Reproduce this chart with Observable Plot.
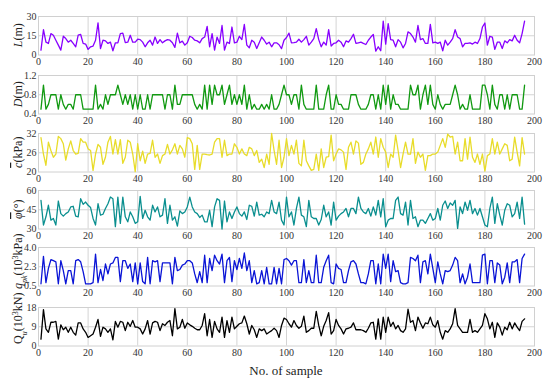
<!DOCTYPE html>
<html><head><meta charset="utf-8">
<script src="https://cdn.jsdelivr.net/npm/d3@7"></script>
<script src="https://cdn.jsdelivr.net/npm/@observablehq/plot@0.6"></script>
<style>
body{margin:0;background:#fff;}
#chart{position:relative;width:550px;height:382px;font-family:"Liberation Serif",serif;}
#chart svg{position:absolute;left:0;overflow:visible;font-family:"Liberation Serif",serif !important;}
#chart svg text{font-family:"Liberation Serif",serif;}
#xtitle{position:absolute;left:0;width:572px;text-align:center;top:363px;font-size:13px;color:#222;font-family:"Liberation Serif",serif;}
</style></head><body><div id="chart"><div id="xtitle">No. of sample</div></div>
<script>
const sampleNo = d3.range(1, 197);
const xTicks = [0, 20, 40, 60, 80, 100, 120, 140, 160, 180, 200];

const L = [3.8,19.7,10,9,16.7,15.4,11.5,7.7,3.8,14.6,
12.8,10,11.5,9,6.4,15.4,16,9,8.5,4.4,
6.4,7,11.5,25,5,11.5,11,9,10,3.3,
9.5,9.5,16.7,17,9.7,10,15.4,10,10,12.3,
12,10,6.4,9.5,11.5,7.7,14,9,12,9.5,
11,12,11.5,9.5,5.9,17,9.5,10.8,7.7,9.5,
14.6,13.6,11.5,11,9.5,12.8,14,22.3,6.4,16.7,
3.8,14,9,23,3.8,10,9,21.8,9.5,10,
14.6,12,23.8,7.7,5.6,11.5,10,5.1,9.5,14,
11.5,8.5,10,6.4,9.5,9.5,8,5,11.5,13.6,
17,9.5,9.7,10,12.3,10,12,14.6,7.7,10,
12.8,20.5,12,6.4,10,7.7,19.7,7,9,9.5,
11.5,10,6.4,11,10,12.8,16.2,9,9.5,10,
9,8.2,11.5,14,16,3,6.4,3.3,26.4,8.5,
24.4,12,11.5,6.4,12,10,5.6,9,18,16.7,
14,10,23,12,12.8,9,9,23.8,9.5,10,
9,10,3.3,11.5,7.7,10,12.8,19.7,14,12.8,
6.4,9,9,9.5,8.5,10,9,12.8,21.8,24.9,
7.7,14.6,14,4.4,10,10,5.1,11,9.5,12,
11,15.4,11.5,9.5,16.7,26.4];

const D = [0.5,1.0,0.5,0.6,0.8,0.8,0.8,0.5,0.8,0.6,
0.5,0.6,0.6,0.5,0.8,0.8,0.8,0.5,0.5,0.5,
0.5,0.5,1.0,0.5,0.6,0.5,0.8,0.6,0.8,0.8,
0.8,1.0,0.8,0.6,0.8,0.6,0.8,0.5,0.8,0.5,
0.8,0.5,0.5,0.8,0.5,0.8,0.8,0.8,0.8,0.8,
0.5,0.8,0.8,0.5,1.0,0.6,0.6,0.8,0.8,0.8,
0.8,0.8,0.6,0.5,0.6,0.5,1.0,0.5,1.0,0.6,
1.0,0.8,0.8,1.0,0.6,0.8,1.0,0.6,0.8,0.6,
0.8,0.6,1.0,0.5,0.8,0.5,0.6,0.5,0.5,0.6,
0.5,0.6,0.5,0.8,0.5,0.5,0.6,0.8,1.0,0.8,
0.8,0.6,0.8,0.8,0.5,1.0,0.6,0.5,0.5,0.5,
0.5,1.0,0.5,0.5,0.5,0.8,1.0,0.5,0.5,0.8,
0.6,0.6,0.5,0.5,0.5,0.8,0.8,0.8,0.6,0.5,
0.5,0.5,0.6,0.8,0.8,0.5,0.8,0.5,1.0,0.6,
1.0,0.5,0.8,0.6,0.6,0.5,0.5,0.5,0.5,1.0,
0.8,0.8,1.0,0.5,0.8,1.0,0.6,1.0,0.6,0.5,
0.8,0.6,0.5,0.6,0.6,0.6,0.8,1.0,0.8,0.5,
0.6,0.5,0.5,0.8,0.5,0.5,0.5,0.5,1.0,1.0,
0.8,0.5,1.0,0.6,0.5,0.8,0.8,0.5,0.8,0.5,
0.8,0.8,0.8,0.5,0.5,1.0];

const C = [30.7,25.6,22.1,29.3,26.7,24.6,25.6,31.1,30.4,28.8,
23.7,27.2,29.7,26.7,25.6,25.8,30.4,29.3,29.3,27.2,
26.7,20.5,25.6,28.6,27.7,22.4,24.6,29.3,31.1,25.6,
30.1,25.6,30.1,22.7,24.6,29.9,29.3,25.6,20.1,28.8,
23.5,26.5,22.7,25.6,25.8,29.9,24.6,25.6,22.7,25.1,
25.6,28.6,25.6,26.9,28.8,25.6,28.3,27.2,24.6,30.7,
30.4,28.8,20.8,28.3,20.8,25.6,25.6,25.4,25.3,25.6,
29.3,30.4,30.4,24.6,29.9,25.1,25.6,25.6,28.8,27.7,
25.6,27.2,25.6,25.1,27.7,27.2,25.1,26.7,23.0,24.0,
21.4,25.6,22.4,32,26.7,22.4,29.9,21.4,24.6,30.4,
25.1,28.3,25.6,29.9,22.7,21.9,29.9,23.5,21.9,20.5,
20.8,25.6,20.5,27.2,21.4,24.6,24.8,31.5,23.5,25.6,
27.2,26.9,26.2,20.8,27.7,29.3,25.6,29.7,29.0,22.4,
23.0,25.6,27.2,29.3,25.6,30.9,24.6,30.4,27.7,26.2,
21.4,25.6,24.6,31.5,26.7,21.4,25.6,29.3,25.6,25.6,
30.4,22.7,26.2,24.6,25.6,20.5,25.1,25.1,25.6,25.6,
26.2,28.3,30.4,27.7,31.8,30.9,31.1,25.6,29.3,23.5,
23.5,30.4,24.0,30.9,24.6,23.0,25.6,22.4,25.6,20.3,
25.1,25.6,30.4,25.6,29.3,25.6,27.2,28.8,28.3,23.5,
24.0,30.9,26.2,21.9,30.7,25.6];

const PHI = [52.3,33.1,39.5,48.5,36.9,38.2,33.1,51.8,42,40,
42,43.3,47.2,47.7,40,39.5,53.6,49.2,51,48.5,
46.7,38.2,33.1,49.7,40.8,41.5,46,49.7,54.9,53.6,
31.8,54.9,34.4,54.9,39.5,35.6,43.3,39.5,34.4,35.6,
55.4,38.2,44.6,39.5,36.9,48.5,43.3,47.2,39.5,40.8,
53.6,34.4,48.5,36.9,39.5,32.3,44.1,42,43.3,47.2,
54.9,47.2,43.3,42,39,40.8,35.6,35.6,44.6,31.8,
47.2,53.6,52.3,30,51.8,35.6,43.3,38.2,43.3,47.2,
42,40,43.3,37.4,48.5,47.7,40,51,40.8,41.5,
39.5,43.3,42,52.3,43.3,42,51,36.9,33.1,54.9,
39.5,43.3,33.1,46,54.9,40.8,39.5,31.8,52.3,39.5,
38.2,38.2,33.1,37.4,48.5,39.5,43.3,33.1,51,36.9,
40,42,43.3,46,39.5,46,46,42,54.9,46,
43.3,42,46,40,47.2,40.8,52.3,39.5,53.6,31.8,
36.9,38.2,38.2,52.3,54.9,42,40.8,51,33.1,52.3,
38.2,39.5,31.8,36.9,36.9,34.4,38.2,42,36.9,38.2,
46,36.9,48.5,51.8,46,50.3,48.5,52.3,30.5,47.2,
42,51,44.6,52.3,42,46,40.8,46,39.5,33.1,
31.8,46,54.9,34.4,49.7,40.8,33.1,44.6,49.7,48.5,
39.5,42,51,38.2,54.9,33.8];

const QPK = [0.7,3.2,0.8,2.1,2.9,2.8,2.7,0.7,2.8,1.9,
0.7,1.9,1.9,0.7,2.8,2.9,2.7,1.8,0.7,0.7,
0.7,0.8,3.4,0.8,2.0,1.0,2.5,1.6,2.5,2.6,
3.1,3.1,0.9,2.8,2.8,2.1,2.5,0.9,2.6,0.7,
2.6,0.9,0.7,3.1,0.7,2.8,2.7,2.8,0.9,2.6,
2.6,2.6,2.6,0.7,3.1,1.9,2.0,2.4,2.5,2.8,
2.8,2.6,1.6,0.8,1.8,0.8,3.3,0.8,3.0,1.9,
3.3,2.8,2.5,3.4,0.8,2.8,3.1,0.9,2.8,2.0,
3.0,2.1,3.5,1.9,2.8,0.8,1.9,0.7,0.8,1.9,
0.7,2.2,0.7,0.7,2.2,0.7,2.1,0.7,2.9,3.0,
2.8,2.4,2.8,2.8,0.8,0.8,2.9,0.8,1.9,0.8,
0.8,3.3,0.8,0.8,2.2,2.8,3.3,0.8,0.7,2.5,
2.1,2.0,0.8,0.8,1.9,2.7,2.8,2.5,1.6,0.8,
0.8,0.7,1.6,2.8,2.8,0.7,2.5,0.7,3.4,2.1,
3.4,0.9,2.8,1.8,1.9,0.8,0.7,0.7,0.8,3.1,
3.0,2.8,3.3,0.8,2.7,2.8,1.6,3.4,2.1,0.8,
2.7,1.6,0.7,1.9,1.8,1.9,2.4,3.1,2.8,0.8,
1.6,0.7,1.3,2.5,0.8,0.8,0.8,0.8,3.3,3.4,
0.7,2.8,2.8,0.8,2.6,2.4,0.7,1.3,2.6,0.8,
2.7,2.7,2.9,0.8,3.0,3.4];

const QU = [3.2,17,8,6.4,11.1,11.1,11.5,3.2,9.9,7.6,
8.8,6.4,8.8,6.4,5.1,10.8,10.8,8,6.4,4,
4.8,5.6,8.8,12.4,4.5,8.8,8,6.4,8,2.9,
11.5,8.8,11.5,11.1,7.2,11.1,9.2,11.9,8.8,8.8,
8,5.6,8,11.9,5.6,10.8,11.5,11.1,7.2,10.4,
9.6,11.1,11.9,4.8,17.5,8,8.8,12.4,8.3,10.8,
9.9,9.2,8.3,7.6,7.6,9.6,15.1,4.8,12.4,4,
11.5,8,6.4,13.5,4,11.9,6.4,13.5,8,9.2,
10.4,10.8,14,10.4,5.6,9.6,7.6,4,8,7.2,
8,5.6,6.4,7.2,8.3,7.2,4,9.6,13,12.4,
10.4,8.8,11.9,9.6,8.3,9.2,14,6.4,7.2,8.3,
8.3,16.2,9.6,4.8,9.2,11.9,15.6,5.6,7.2,12.4,
9.6,8,5.6,8,8.3,8.8,10.8,7.6,7.6,7.6,
7.2,6.4,8.3,10.8,11.1,3.2,12.7,3.2,13.5,6.4,
13.5,9.2,11.1,8,9.6,7.2,6.4,8,17.2,11.1,
11.9,7.2,13.5,10.8,8.3,10.8,10.4,13.5,9.9,8.8,
11.9,6.4,3.2,7.2,6.4,8,10.4,17.5,9.6,8,
6.4,6.4,6.4,12.4,6.4,7.2,6.4,8,9.6,15.1,
12.7,8,11.1,4,10.8,8.8,5.1,8.8,7.6,11.1,
8,10.8,8.8,7.2,11.5,12.7];

const yTickValues = [[0,15,30],[0.4,0.8,1.2],[20,26,32],[30,45,60],[0.5,2.25,4.0],[0,9,18]];
const yTickLabels = [["0","15","30"],["0.4","0.8","1.2"],["20","26","32"],["30","45","60"],["0.5","2.3","4.0"],["0","9","18"]];
const series = [L, D, C, PHI, QPK, QU];
const colors = ["#8800ff", "#119911", "#e8dc2a", "#0a8f8f", "#0a14d6", "#000000"];

const panelTops = [16, 75, 133, 190, 247, 307];
const panelH = 38.5;
const labelShift = [0, 0, 0, 0, -5, -8];

// label parts: [text, italic, sub/sup, overline]
const labels = [
  [["L",1],["(m)",0]],
  [["D",1],["(m)",0]],
  [["c",1,null,1],["(kPa)",0]],
  [["φ",1,null,1],["(°)",0]],
  [["q",1],["pk",1,"sub"],["(10",0],["3",0,"sup"],["kPa)",0]],
  [["Q",0],["u",1,"sub"],["(10",0],["3",0,"sup"],["kN)",0]]
];

const chart = document.getElementById("chart");
const mt = 8, mb = 16;
const FONT = "Liberation Serif";

series.forEach((vals, k) => {
  const rows = sampleNo.map((s, i) => ({s, v: vals[i]}));
  const yt = yTickValues[k];
  const fmt = d => yTickLabels[k][yt.indexOf(d)];
  const svg = Plot.plot({
    width: 550,
    height: mt + panelH + mb,
    marginLeft: 38, marginRight: 16, marginTop: mt, marginBottom: mb,
    style: {fontSize: "9.5px", color: "#333", background: "transparent", overflow: "visible"},
    x: {domain: [0, 200]},
    y: {domain: [yt[0], yt[2]]},
    marks: [
      Plot.gridX(xTicks.slice(1, -1), {stroke: "#d4d4d4", strokeOpacity: 1, strokeWidth: 1}),
      Plot.gridY([yt[1]], {stroke: "#d4d4d4", strokeOpacity: 1, strokeWidth: 1}),
      Plot.frame({stroke: "#d0d0d0", strokeWidth: 1}),
      Plot.axisX(xTicks, {tickSize: 0, tickPadding: 3, label: null, fill: "#333", fontFamily: FONT, fontSize: 10}),
      Plot.axisY(yt, {tickSize: 0, tickPadding: 2, label: null, tickFormat: fmt, fill: "#333", fontFamily: FONT, fontSize: 10}),
      Plot.line(rows, {x: "s", y: "v", stroke: colors[k], strokeWidth: 1.3})
    ]
  });
  svg.setAttribute("font-family", FONT);
  svg.style.top = (panelTops[k] - mt) + "px";
  chart.appendChild(svg);
  const t = d3.select(svg).append("text")
    .attr("transform", `translate(22,${mt + panelH / 2 + labelShift[k]}) rotate(-90)`)
    .attr("text-anchor", "middle")
    .attr("font-family", FONT)
    .attr("font-size", 12)
    .attr("fill", "#222");
  labels[k].forEach(([txt, it, pos, over]) => {
    const ts = t.append("tspan").text(txt);
    if (it) ts.attr("font-style", "italic");
    if (pos === "sub") ts.attr("baseline-shift", "sub").attr("font-size", 8);
    if (pos === "sup") ts.attr("baseline-shift", "super").attr("font-size", 8);
    if (over) ts.style("text-decoration", "overline");
  });
});
</script></body></html>
